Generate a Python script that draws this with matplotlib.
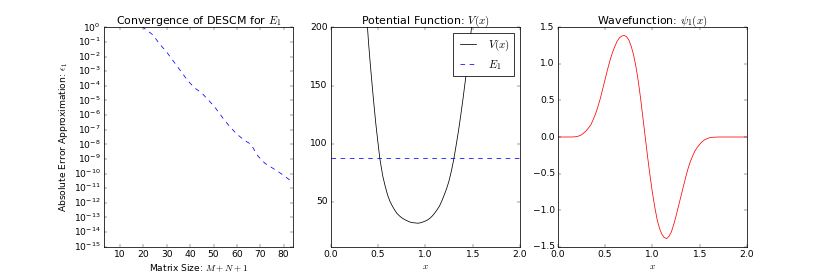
import numpy as np
import matplotlib
matplotlib.use("Agg")
import matplotlib.pyplot as plt

# convergence of the first eigenvalue (log10 of absolute error)
matrix_size = [3, 6, 9, 12, 15, 18, 21, 24, 27, 30, 33, 36, 39, 42, 45, 48, 51, 54,
               57, 60, 63, 66, 69, 72, 75, 78, 81, 84]
log_err = [2.0, 1.7, 1.4, 1.0, 0.6, 0.25, -0.15, -0.5, -1.15, -1.7, -2.35, -3.0, -3.65,
           -4.15, -4.5, -5.0, -5.55, -6.2, -6.8, -7.3, -7.7, -8.0, -8.8, -9.3, -9.6,
           -9.9, -10.25, -10.6]

# potential V(x) and first energy level
x_pot = [0.36, 0.388, 0.4, 0.413, 0.43, 0.45, 0.475, 0.5, 0.518, 0.525, 0.55, 0.575,
         0.6, 0.625, 0.65, 0.675, 0.7, 0.725, 0.75, 0.775, 0.8, 0.825, 0.85, 0.875,
         0.924, 0.96, 1.0, 1.025, 1.05, 1.075, 1.1, 1.125, 1.15, 1.175, 1.2, 1.225,
         1.25, 1.275, 1.3, 1.325, 1.35, 1.375, 1.4, 1.425, 1.45, 1.47, 1.488, 1.52]
v_pot = [235, 200, 186, 173, 157, 139, 118, 100, 87.6, 84, 72, 63.5,
         56, 50.5, 46.5, 43, 40, 38, 36.3, 35, 34, 33, 32.3, 32,
         31.6, 32.2, 33.5, 34.5, 36, 38, 40.5, 43.3, 46.5, 51, 56, 61.5,
         68, 76.5, 86.5, 98.5, 111, 125, 140, 156, 172, 187, 200, 228]
E1 = 87.7

# wavefunction psi_1(x)
x_psi = [0.0, 0.15, 0.175, 0.2, 0.225, 0.25, 0.275, 0.3, 0.325, 0.35, 0.375, 0.4,
         0.425, 0.45, 0.475, 0.5, 0.525, 0.55, 0.575, 0.6, 0.625, 0.65, 0.675, 0.7,
         0.725, 0.75, 0.775, 0.8, 0.825, 0.85, 0.875, 0.9, 0.925, 0.95, 0.975, 1.0,
         1.025, 1.05, 1.075, 1.1, 1.125, 1.15, 1.175, 1.2, 1.225, 1.25, 1.275, 1.3,
         1.325, 1.35, 1.375, 1.4, 1.425, 1.45, 1.475, 1.5, 1.525, 1.55, 1.575, 1.6,
         1.625, 1.65, 1.7, 2.0]
psi = [0.0, 0.0, 0.002, 0.006, 0.015, 0.03, 0.055, 0.085, 0.125, 0.17, 0.24, 0.32,
       0.42, 0.53, 0.66, 0.79, 0.92, 1.04, 1.145, 1.23, 1.305, 1.355, 1.38, 1.39,
       1.375, 1.33, 1.245, 1.13, 0.97, 0.77, 0.53, 0.26, -0.01, -0.28, -0.53, -0.76,
       -0.96, -1.13, -1.25, -1.33, -1.375, -1.39, -1.36, -1.30, -1.20, -1.08, -0.95, -0.82,
       -0.69, -0.56, -0.44, -0.34, -0.26, -0.19, -0.14, -0.10, -0.065, -0.04, -0.024, -0.012,
       -0.006, -0.003, 0.0, 0.0]

plt.style.use("classic")

fig, (ax1, ax2, ax3) = plt.subplots(1, 3, figsize=(830 / 55, 274 / 55), dpi=55)
fig.patch.set_facecolor("white")

ax1.semilogy(matrix_size, 10.0 ** np.array(log_err), "b--")
ax1.set_xlim(3, 84)
ax1.set_ylim(1e-15, 1e0)
ax1.set_yticks(10.0 ** np.arange(-15, 1))
ax1.minorticks_off()
ax1.set_title("Convergence of DESCM for $E_1$")
ax1.set_xlabel("Matrix Size: $M+N+1$")
ax1.set_ylabel("Absolute Error Approximation: $\\epsilon_1$")

ax2.plot(x_pot, v_pot, "k-", label="$V(x)$")
ax2.axhline(E1, color="b", ls="--", label="$E_1$")
ax2.set_xlim(0, 2)
ax2.set_ylim(11.5, 200)
ax2.set_yticks([50, 100, 150, 200])
ax2.set_title("Potential Function: $V(x)$")
ax2.set_xlabel("$x$")
ax2.legend(loc="upper right")

ax3.plot(x_psi, psi, "r-")
ax3.set_xlim(0, 2)
ax3.set_ylim(-1.5, 1.5)
ax3.set_title("Wavefunction: $\\psi_1(x)$")
ax3.set_xlabel("$x$")

fig.savefig("out.png", dpi=55, facecolor="white")
